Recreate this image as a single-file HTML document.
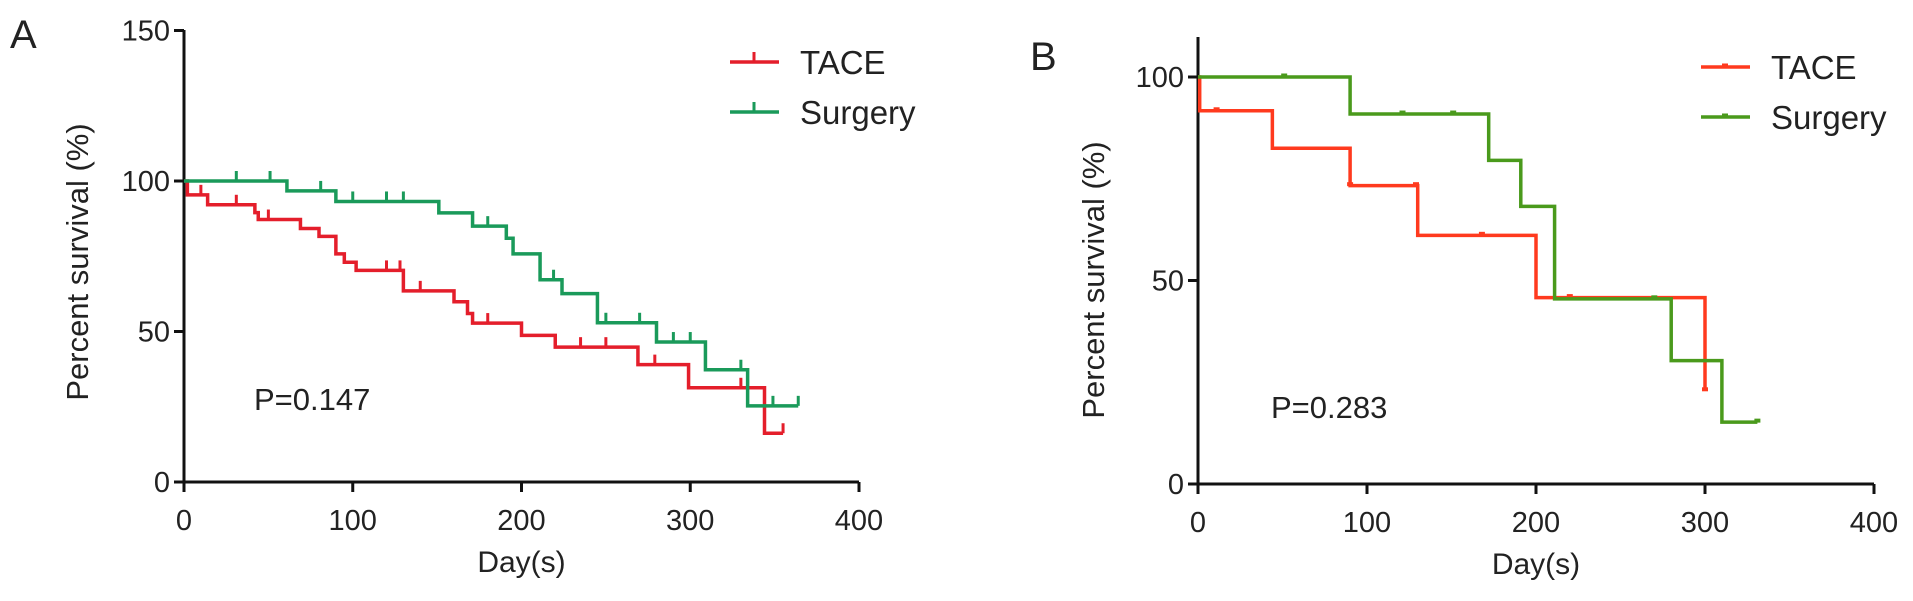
<!DOCTYPE html>
<html><head><meta charset="utf-8">
<style>
html,body{margin:0;padding:0;background:#fff;}
svg{display:block;font-family:"Liberation Sans",Arial,sans-serif;}
text{fill:#222;}
</style></head>
<body>
<svg id="fig" width="1913" height="601" viewBox="0 0 1913 601" xmlns="http://www.w3.org/2000/svg">
<g id="pa"></g>
<g id="pb"></g>
</svg>
<script>
// Panel A data
const aTaceDays   = [0, 2, 14, 42, 44, 69, 80, 90, 95, 102, 130, 160, 168, 171, 200, 220, 269, 299, 344, 355];
const aTaceVals   = [100, 95.4, 92.1, 89.5, 87.2, 84.2, 81.6, 75.8, 73, 70.3, 63.5, 59.9, 56, 52.8, 48.7, 44.8, 39, 31.3, 16.2, 16.2];
const aTaceCens   = [10, 31, 50, 120, 128, 140, 168, 180, 235, 250, 279, 330, 355];
const aSurgDays   = [0, 61, 90, 151, 171, 191, 195, 211, 224, 245, 280, 309, 334, 364];
const aSurgVals   = [100, 96.7, 93.2, 89.4, 85, 81, 75.8, 67.2, 62.6, 52.9, 46.5, 37.3, 25.3, 25.3];
const aSurgCens   = [31, 51, 81, 100, 120, 130, 180, 219, 250, 270, 290, 300, 330, 349, 364];
const aXTicks = [0, 100, 200, 300, 400];
const aYTicks = [0, 50, 100, 150];
// Panel B data
const bTaceDays = [0, 1, 44, 90, 130, 200, 300];
const bTaceVals = [100, 91.7, 82.5, 73.3, 61.1, 45.8, 22.9];
const bTaceCens = [11, 90, 129, 168, 220, 300];
const bSurgDays = [0, 90, 172, 191, 211, 280, 310, 331];
const bSurgVals = [100, 90.9, 79.5, 68.2, 45.5, 30.3, 15.2, 15.2];
const bSurgCens = [51, 121, 151, 270, 331];
const bXTicks = [0, 100, 200, 300, 400];
const bYTicks = [0, 50, 100];

const NS = "http://www.w3.org/2000/svg";
function mk(parent, tag, attrs, txt){
  const e = document.createElementNS(NS, tag);
  for (const k in attrs) e.setAttribute(k, attrs[k]);
  if (txt !== undefined) e.textContent = txt;
  parent.appendChild(e);
  return e;
}
function stepPath(days, vals, sx, sy){
  let d = "M" + sx(days[0]) + "," + sy(vals[0]);
  for (let i = 1; i < days.length; i++){
    d += " H" + sx(days[i]) + " V" + sy(vals[i]);
  }
  return d;
}
function valAt(days, vals, t){
  let v = vals[0];
  for (let i = 0; i < days.length; i++){ if (days[i] <= t) v = vals[i]; }
  return v;
}

function panel(g, cfg){
  const sx = d => cfg.x0 + (d / 400) * (cfg.x1 - cfg.x0);
  const sy = v => cfg.y0 - (v / 100) * (cfg.y0 - cfg.y100);
  const ax = mk(g, "line", {x1: cfg.x0, y1: cfg.y0, x2: cfg.x1, y2: cfg.y0, stroke: "#111", "stroke-width": 3});
  
  
  const ay = mk(g, "line", {x1: cfg.x0, y1: cfg.y0 + 1.5, x2: cfg.x0, y2: cfg.yTop, stroke: "#111", "stroke-width": 3});
  
  
  cfg.xt.forEach(t => {
    const l = mk(g, "line", {x1: sx(t), y1: cfg.y0, x2: sx(t), y2: cfg.y0 + 10, stroke: "#111", "stroke-width": 3});
    
    
    const tx = mk(g, "text", {x: sx(t), y: cfg.y0 + 48, "text-anchor": "middle", "font-size": 29}, String(t));
    
    
  });
  cfg.yt.forEach(t => {
    const l = mk(g, "line", {x1: cfg.x0 - 10, y1: sy(t), x2: cfg.x0, y2: sy(t), stroke: "#111", "stroke-width": 3});
    
    
    const tx = mk(g, "text", {x: cfg.x0 - 14, y: sy(t) + 10, "text-anchor": "end", "font-size": 29}, String(t));
    
    
  });
  const xt = mk(g, "text", {x: (cfg.x0 + cfg.x1) / 2, y: cfg.y0 + 90, "text-anchor": "middle", "font-size": 30}, "Day(s)");
  
  
  const yt = mk(g, "text", {x: 0, y: 0, "text-anchor": "middle", "font-size": 31, transform: "translate(" + cfg.ytx + "," + cfg.yty + ") rotate(-90)"}, "Percent survival (%)");
  
  
  const pl = mk(g, "text", {x: cfg.letterX, y: cfg.letterY, "font-size": 40}, cfg.letter);
  
  
  const pv = mk(g, "text", {x: cfg.px, y: cfg.py, "font-size": 31}, cfg.ptxt);
  
  

  cfg.series.forEach((s, si) => {
    const p = mk(g, "path", {d: stepPath(s.days, s.vals, sx, sy), fill: "none", stroke: s.color, "stroke-width": 3.5});
    
    
    s.cens.forEach(c => {
      const v = valAt(s.days, s.vals, c);
      let m;
      if (cfg.tickCens){
        m = mk(g, "line", {x1: sx(c), y1: sy(v), x2: sx(c), y2: sy(v) - 10, stroke: s.color, "stroke-width": 3});
      } else {
        m = mk(g, "line", {x1: sx(c) - 3, y1: sy(v) - 1.5, x2: sx(c) + 3, y2: sy(v) - 1.5, stroke: s.color, "stroke-width": 4});
      }
      
      
    });
    const ly = cfg.legY + si * cfg.legDY;
    const ll = mk(g, "line", {x1: cfg.legX, y1: ly, x2: cfg.legX + 49, y2: ly, stroke: s.color, "stroke-width": 3.5});
    
    
    if (cfg.tickCens){
      mk(g, "line", {x1: cfg.legX + 24, y1: ly, x2: cfg.legX + 24, y2: ly - 10, stroke: s.color, "stroke-width": 3});
    } else {
      mk(g, "line", {x1: cfg.legX + 21, y1: ly - 1.5, x2: cfg.legX + 27, y2: ly - 1.5, stroke: s.color, "stroke-width": 4});
    }
    const lt = mk(g, "text", {x: cfg.legX + cfg.legTX, y: ly + 12, "font-size": 33}, s.label);
    
    
  });
}

panel(document.getElementById("pa"), {
  x0: 184, x1: 859, y0: 482, y100: 181, yTop: 30, xt: aXTicks, yt: aYTicks,
  ytx: 88, yty: 262, letter: "A", letterX: 10, letterY: 48, px: 254, py: 410, ptxt: "P=0.147",
  tickCens: true, legX: 730, legY: 62, legDY: 50, legTX: 70,
  series: [
    {name: "tace", label: "TACE", color: "#e41e2b", days: aTaceDays, vals: aTaceVals, cens: aTaceCens},
    {name: "surgery", label: "Surgery", color: "#1a9a5a", days: aSurgDays, vals: aSurgVals, cens: aSurgCens}
  ]
});
panel(document.getElementById("pb"), {
  x0: 1198, x1: 1874, y0: 484, y100: 77, yTop: 37, xt: bXTicks, yt: bYTicks,
  ytx: 1104, yty: 280, letter: "B", letterX: 1030, letterY: 70, px: 1271, py: 418, ptxt: "P=0.283",
  tickCens: false, legX: 1701, legY: 67, legDY: 50, legTX: 70,
  series: [
    {name: "tace", label: "TACE", color: "#ff3a1e", days: bTaceDays, vals: bTaceVals, cens: bTaceCens},
    {name: "surgery", label: "Surgery", color: "#4a9a1c", days: bSurgDays, vals: bSurgVals, cens: bSurgCens}
  ]
});
</script>
</body></html>
